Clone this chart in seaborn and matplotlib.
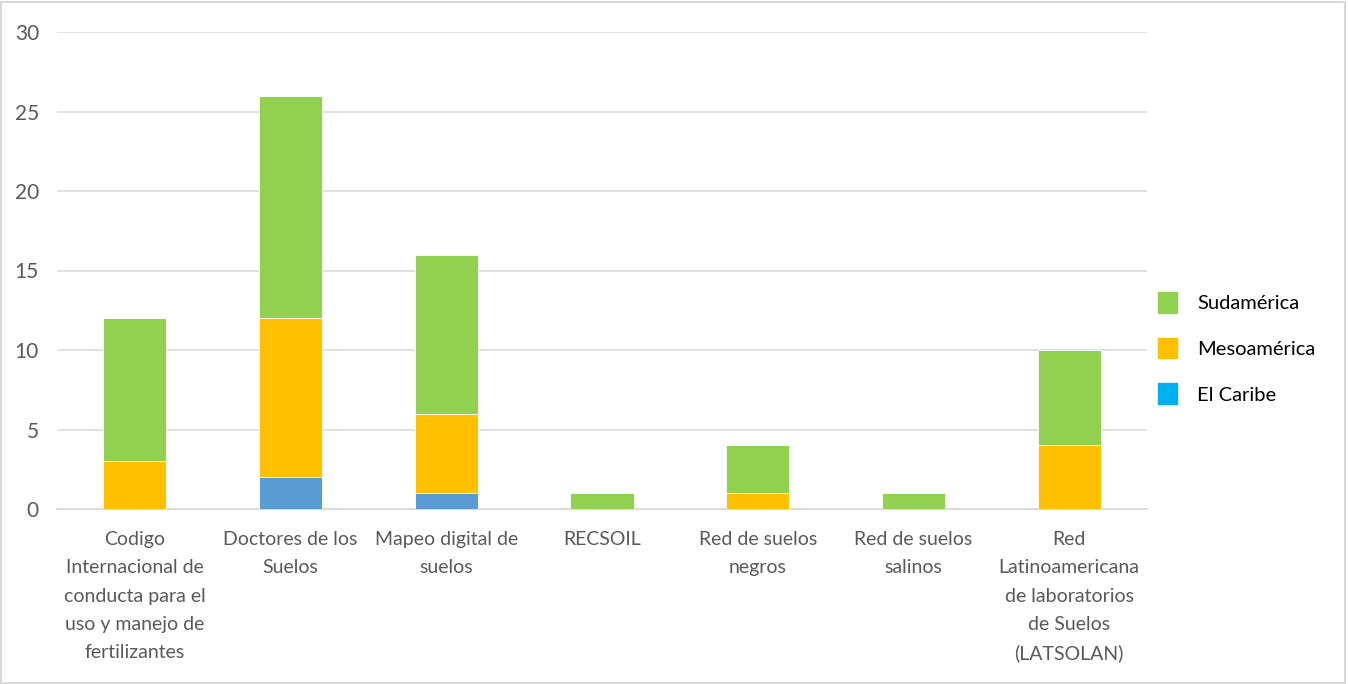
import matplotlib
matplotlib.use("Agg")
import matplotlib.pyplot as plt
import matplotlib.patches as mpatches
import pandas as pd
import seaborn as sns

categories = [
    "Codigo\nInternacional de\nconducta para el\nuso y manejo de\nfertilizantes",
    "Doctores de los\nSuelos",
    "Mapeo digital de\nsuelos",
    "RECSOIL",
    "Red de suelos\nnegros",
    "Red de suelos\nsalinos",
    "Red\nLatinoamericana\nde laboratorios\nde Suelos\n(LATSOLAN)",
]
el_caribe = [0, 2, 1, 0, 0, 0, 0]
mesoamerica = [3, 10, 5, 0, 1, 0, 4]
sudamerica = [9, 14, 10, 1, 3, 1, 6]

series_names = ["Sudamérica", "Mesoamérica", "El Caribe"]
bar_colors = {"Sudamérica": "#92D050", "Mesoamérica": "#FFC000", "El Caribe": "#5B9BD5"}
legend_colors = {"Sudamérica": "#92D050", "Mesoamérica": "#FFC000", "El Caribe": "#00B0F0"}

df = pd.DataFrame({
    "cat": categories,
    "El Caribe": el_caribe,
    "Mesoamérica": mesoamerica,
    "Sudamérica": sudamerica,
})
# cumulative tops for stacking (drawn back to front)
df["top_caribe"] = df["El Caribe"]
df["top_meso"] = df["top_caribe"] + df["Mesoamérica"]
df["top_sud"] = df["top_meso"] + df["Sudamérica"]

sns.set_theme(style="white")
plt.rcParams["font.family"] = ["Lato", "DejaVu Sans"]

fig = plt.figure(figsize=(13.48, 6.84), dpi=100)
ax = fig.add_axes([57 / 1348, 1 - 509 / 684, 1090 / 1348, 477 / 684])

w = 0.405
for col, name in [("top_sud", "Sudamérica"), ("top_meso", "Mesoamérica"), ("top_caribe", "El Caribe")]:
    sns.barplot(data=df, x="cat", y=col, color=bar_colors[name], width=w,
                saturation=1, edgecolor="white", linewidth=0.6, ax=ax, zorder=3)

ax.set_ylim(0, 30)
ax.set_xlim(-0.5, 6.5)
ax.set_yticks(range(0, 31, 5))
ax.yaxis.grid(True, color="#D9D9D9", linewidth=1.1, zorder=0)
ax.set_axisbelow(True)
for s in ["top", "right", "left"]:
    ax.spines[s].set_visible(False)
ax.spines["bottom"].set_color("#D9D9D9")
ax.spines["bottom"].set_linewidth(1.3)
ax.set_xlabel("")
ax.set_ylabel("")
ax.tick_params(axis="both", length=0, colors="#595959")
ax.tick_params(axis="x", labelsize=14, pad=16)
ax.tick_params(axis="y", labelsize=15, pad=13)
for lbl in ax.get_xticklabels():
    lbl.set_linespacing(1.8)

handles = [mpatches.Patch(color=legend_colors[n], label=n) for n in series_names]
fig.legend(handles=handles, loc="center left", bbox_to_anchor=(1140 / 1348, 1 - 348 / 684),
           frameon=False, fontsize=14.5, handlelength=0.95, handleheight=1.2,
           handletextpad=1.0, labelspacing=1.25, labelcolor="black")

fig.patches.append(mpatches.Rectangle((0.001, 0.002), 0.997, 0.995, transform=fig.transFigure,
                                      fill=False, edgecolor="#D9D9D9", linewidth=1.5))

fig.savefig("out.png", dpi=100)
